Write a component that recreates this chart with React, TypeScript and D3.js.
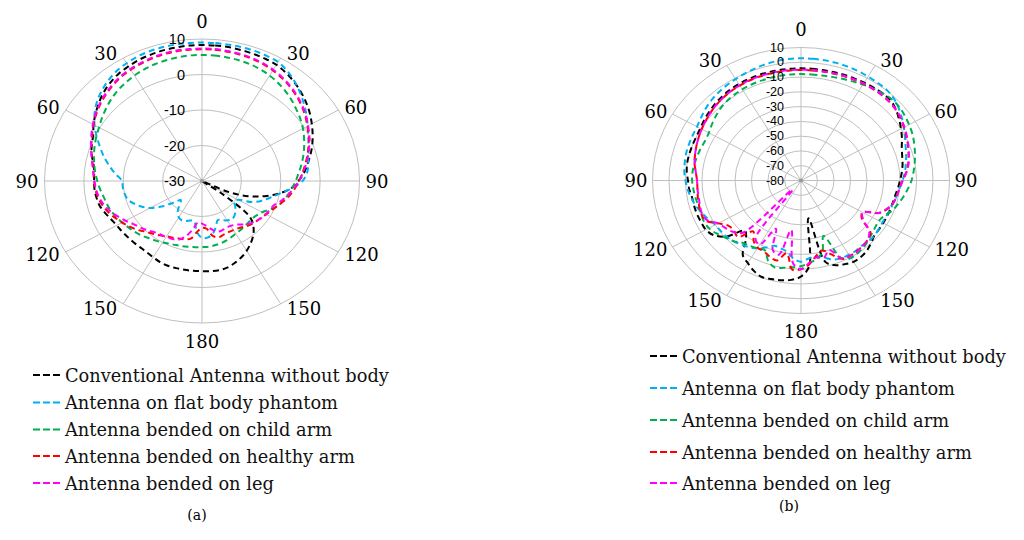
import React from 'react';
import * as d3 from 'd3';

// ---------- data ----------
const ANGLES: number[] = d3.range(0, 360, 5); // degrees, 0 at top, clockwise
const SERIES_NAMES = [
  'Conventional Antenna without body',
  'Antenna on flat body phantom',
  'Antenna bended on child arm',
  'Antenna bended on healthy arm',
  'Antenna bended on leg',
];
const COLORS = ['#000000', '#00B0F0', '#00B050', '#FF0000', '#FF00FF'];
const ANGLE_TICKS = [0, 30, 60, 90, 120, 150, 180, 210, 240, 270, 300, 330];
const TICKS_A = [-30, -20, -10, 0, 10];
const TICKS_B = [-80, -70, -60, -50, -40, -30, -20, -10, 0, 10];

// (a) values in dB at ANGLES
const A_CONVENTIONAL = [
  8.3, 8.3, 8.3, 8.2, 8.1, 8.0, 7.8, 7.2, 6.4, 5.5, 4.5, 3.4, 2.2, 1.0, -0.2, -1.5, -2.8, -4.0,
  -5.5, -7.2, -10, -13.5, -17.5, -23, -30, -24, -14, -11.5, -9.8, -8.5, -7.3, -6.3, -5.5, -4.8, -4.5, -4.5,
  -4.6, -4.6, -4.6, -4.6, -4.6, -4.8, -5.2, -5.5, -5.6, -5.5, -5.4, -5.2, -5.0, -4.5, -3.8, -3.1, -2.8, -2.6,
  -2.6, -2.5, -2.0, -1.0, -0.2, 0.5, 1.8, 3.0, 4.2, 5.3, 6.2, 6.9, 7.3, 7.7, 7.9, 8.1, 8.2, 8.3,
];
const A_FLAT = [
  9.0, 9.0, 9.0, 9.0, 9.0, 8.9, 8.7, 7.8, 6.6, 5.2, 3.8, 2.4, 1.0, -0.2, -1.2, -2.0, -2.6, -3.2,
  -4.5, -7.0, -9.8, -12, -13.8, -16, -19.4, -20, -19, -18, -17.2, -16.8, -17.2, -17.8, -18.3, -16.5, -14.8, -14.0,
  -14.0, -15.5, -18.5, -18.5, -18, -17.8, -18.2, -19.2, -21, -22.4, -20.5, -17.5, -14.8, -13, -11.5, -10.4, -10, -9.8,
  -9.7, -8, -6.2, -4.3, -2.5, -0.5, 1.5, 3.3, 4.8, 6.0, 7.0, 7.8, 8.3, 8.7, 8.9, 9.0, 9.0, 9.0,
];
const A_CHILD = [
  5.5, 5.5, 5.4, 5.3, 5.1, 4.8, 4.3, 3.7, 3.0, 2.2, 1.3, 0.5, -0.4, -1.4, -2.4, -3.4, -4.4, -5.4,
  -6.2, -7.0, -7.8, -8.6, -9.5, -11, -12.4, -13.1, -13.4, -13.4, -13.3, -13.1, -12.9, -12.5, -12.1, -11.8, -11.6, -11.4,
  -11.4, -11.3, -11.2, -11.0, -10.8, -10.5, -10.0, -9.5, -9.0, -8.3, -7.7, -7.2, -6.6, -6.0, -5.4, -5.0, -4.6, -4.0,
  -3.4, -2.8, -2.2, -1.6, -1.0, -0.4, 0.2, 1.0, 1.8, 2.6, 3.3, 3.8, 4.3, 4.7, 5.0, 5.2, 5.4, 5.5,
];
const A_HEALTHY = [
  7.1, 7.1, 7.0, 6.9, 6.7, 6.4, 6.0, 5.4, 4.7, 3.9, 3.0, 2.0, 0.9, -0.1, -1.2, -2.3, -3.4, -4.4,
  -5.4, -6.3, -7.3, -8.4, -9.6, -10.5, -11.2, -11.8, -12.2, -12.6, -13.2, -13.8, -14, -14.1, -13.9, -13.6, -14.3, -16.5,
  -16.8, -15.6, -13.5, -13, -12.8, -12.4, -12, -11.3, -10.6, -9.8, -8.6, -7.6, -6.6, -5.6, -4.6, -3.8, -3.2, -2.8,
  -2.6, -2.3, -1.8, -1.0, -0.1, 0.8, 1.8, 2.8, 3.7, 4.5, 5.2, 5.8, 6.2, 6.5, 6.8, 7.0, 7.1, 7.1,
];
const A_LEG = [
  7.3, 7.3, 7.2, 7.1, 6.9, 6.6, 6.2, 5.6, 4.9, 4.1, 3.2, 2.2, 1.1, 0.1, -1.0, -2.1, -3.2, -4.3,
  -5.4, -6.6, -7.8, -9.0, -10.4, -11.0, -11.3, -11.7, -12.3, -13.0, -14.0, -15.0, -15.4, -15.5, -15.2, -15.2, -16.2, -17.3,
  -18, -18.3, -16, -13.8, -12.4, -12.0, -11.8, -11.6, -11.2, -10.4, -9.6, -8.8, -7.6, -6.4, -5.2, -4.2, -3.5, -3.0,
  -2.7, -2.3, -1.7, -0.9, 0.0, 1.0, 2.0, 3.0, 3.9, 4.7, 5.4, 6.0, 6.4, 6.7, 7.0, 7.2, 7.3, 7.3,
];

// (b) values in dB at ANGLES
const B_CONVENTIONAL = [
  -4.1, -4.1, -4.1, -4.0, -3.9, -3.7, -3.5, -3.2, -3.0, -3.3, -5.0, -7.5, -10.0, -12.5, -15.0, -16.5, -17.5, -18.7,
  -20.0, -21.0, -22.0, -22.4, -22.5, -22.5, -22.5, -22.3, -22.0, -20.0, -18.0, -16.8, -16.4, -17.5, -19.0, -23.0, -54.0, -22.0,
  -15.0, -12.5, -11.5, -11.0, -10.5, -12.5, -15.5, -18.5, -28.0, -32.0, -21.0, -15.5, -13.4, -13.2, -13.0, -13.0, -13.0, -12.0,
  -11.5, -10.5, -10.0, -10.0, -10.0, -10.0, -9.5, -8.5, -7.5, -6.5, -5.7, -5.0, -4.6, -4.4, -4.2, -4.1, -4.1, -4.1,
];
const B_FLAT = [
  2.7, 2.7, 2.6, 2.4, 2.1, 1.7, 1.2, 0.8, 0.4, -0.8, -3.0, -5.5, -8.0, -10.5, -12.5, -14.0, -15.5, -16.8,
  -18.5, -20.0, -21.0, -22.0, -22.5, -23.0, -23.0, -22.5, -22.0, -22.0, -22.5, -22.0, -22.0, -22.0, -23.0, -26.0, -28.0, -27.0,
  -25.0, -27.0, -31.0, -32.5, -33.0, -30.0, -27.0, -25.0, -23.5, -22.0, -21.0, -20.5, -20.0, -18.0, -16.0, -14.0, -12.5, -11.0,
  -10.0, -9.0, -8.5, -8.0, -7.8, -7.6, -7.2, -6.0, -4.5, -3.2, -2.2, -1.4, -0.8, 0.0, 0.8, 1.6, 2.2, 2.6,
];
const B_CHILD = [
  -8.0, -8.0, -7.8, -7.4, -6.8, -6.0, -5.0, -4.0, -3.0, -2.2, -2.4, -3.3, -4.4, -5.5, -7.0, -8.5, -10.0, -11.5,
  -13.0, -15.0, -17.0, -19.0, -21.0, -24.0, -25.5, -25.0, -24.0, -22.5, -21.0, -20.0, -19.5, -22.0, -40.0, -30.0, -26.0, -24.0,
  -22.0, -21.0, -20.0, -19.0, -22.0, -28.0, -27.0, -26.0, -25.0, -22.0, -20.0, -17.5, -15.5, -15.0, -15.5, -15.5, -15.0, -14.5,
  -14.0, -14.0, -14.5, -15.0, -15.5, -16.0, -15.5, -14.0, -12.5, -11.0, -10.0, -9.3, -8.8, -8.5, -8.3, -8.1, -8.0, -8.0,
];
const B_HEALTHY = [
  -5.2, -5.2, -5.1, -5.0, -4.8, -4.6, -4.4, -4.3, -4.3, -4.5, -5.2, -6.5, -8.0, -9.5, -11.0, -12.5, -14.0, -16.0,
  -18.5, -20.0, -21.0, -22.0, -24.0, -28.0, -37.0, -35.0, -25.0, -23.0, -22.0, -21.5, -21.0, -21.5, -27.0, -31.0, -28.0, -23.0,
  -20.0, -19.5, -30.0, -24.0, -25.0, -27.0, -27.5, -30.0, -35.0, -26.0, -27.0, -26.5, -22.0, -16.0, -15.5, -16.0, -16.5, -17.0,
  -17.0, -16.0, -14.5, -13.5, -12.5, -11.5, -10.5, -9.5, -8.5, -7.5, -6.8, -6.2, -5.8, -5.5, -5.3, -5.2, -5.2, -5.2,
];
const B_LEG = [
  -5.0, -5.0, -4.9, -4.8, -4.6, -4.4, -4.2, -4.1, -4.1, -4.3, -5.0, -6.2, -7.7, -9.2, -10.8, -12.3, -13.8, -15.8,
  -18.3, -20.0, -21.0, -22.0, -24.5, -28.0, -37.0, -34.0, -26.0, -23.0, -22.0, -21.0, -21.0, -22.0, -30.0, -26.0, -27.0, -24.0,
  -20.0, -24.0, -46.0, -28.0, -30.0, -44.0, -30.0, -32.0, -72.0, -30.0, -26.0, -24.0, -22.0, -17.0, -16.0, -16.5, -17.0, -17.0,
  -17.0, -16.0, -14.5, -13.5, -12.5, -11.5, -10.5, -9.5, -8.5, -7.5, -6.7, -6.0, -5.6, -5.3, -5.1, -5.0, -5.0, -5.0,
];

const SERIES_A = [A_CONVENTIONAL, A_FLAT, A_CHILD, A_HEALTHY, A_LEG];
const SERIES_B = [B_CONVENTIONAL, B_FLAT, B_CHILD, B_HEALTHY, B_LEG];

// ---------- components ----------
type PanelProps = {
  cx: number; cy: number; rx: number; ry: number;
  ticks: number[]; series: number[][];
  gap: number; tickFont: number;
};

const GRID = '#bfbfbf';
const SERIF = '"DejaVu Serif", serif';
const SANS = '"Liberation Sans", Arial, sans-serif';

function Polar({ cx, cy, rx, ry, ticks, series, gap, tickFont }: PanelProps) {
  const lo = d3.min(ticks) as number;
  const hi = d3.max(ticks) as number;
  const sx = d3.scaleLinear().domain([lo, hi]).range([0, rx]).clamp(true);
  const sy = d3.scaleLinear().domain([lo, hi]).range([0, ry]).clamp(true);
  const rad = (a: number) => (a * Math.PI) / 180;
  const px = (a: number, v: number) => cx + sx(v) * Math.sin(rad(a));
  const py = (a: number, v: number) => cy - sy(v) * Math.cos(rad(a));
  const line = d3
    .line<[number, number]>()
    .x((d) => px(d[0], d[1]))
    .y((d) => py(d[0], d[1]))
    .curve(d3.curveCatmullRomClosed.alpha(0.5));

  return (
    <g>
      {ticks.filter((t) => t > lo).map((t) => (
        <ellipse key={'r' + t} cx={cx} cy={cy} rx={sx(t)} ry={sy(t)} fill="none" stroke={GRID} strokeWidth={1} />
      ))}
      {ANGLE_TICKS.map((a) => (
        <line key={'s' + a} x1={cx} y1={cy} x2={px(a, hi)} y2={py(a, hi)} stroke={GRID} strokeWidth={1} />
      ))}
      {ANGLE_TICKS.map((a) => {
        const label = a <= 180 ? a : 360 - a;
        const ex = px(a, hi);
        const ey = py(a, hi);
        if (a === 0 || a === 180) {
          return (
            <text key={'al' + a} x={ex} y={a === 0 ? ey - 18 : ey + 18} textAnchor="middle" dominantBaseline="central"
              fontFamily={SERIF} fontSize={18}>{label}</text>
          );
        }
        const right = a < 180;
        return (
          <text key={'al' + a} x={right ? ex + gap : ex - gap} y={ey - 5 * Math.cos(rad(a))}
            textAnchor={right ? 'start' : 'end'} dominantBaseline="central" fontFamily={SERIF} fontSize={18}>
            {label}
          </text>
        );
      })}
      {series.map((vals, i) => (
        <path key={'p' + i}
          d={line(ANGLES.map((a, j) => [a, vals[j]] as [number, number])) || ''}
          fill="none" stroke={COLORS[i]} strokeWidth={2} strokeDasharray="6,4" />
      ))}
      <circle cx={cx} cy={cy} r={2} fill="#999" />
      {ticks.map((t) => (
        <text key={'t' + t} x={cx - 17} y={cy - sy(t)} textAnchor="end" dominantBaseline="central"
          fontFamily={SANS} fontSize={tickFont} fill="#000">{t}</text>
      ))}
    </g>
  );
}

function Legend({ x, ys }: { x: number; ys: number[] }) {
  return (
    <g>
      {SERIES_NAMES.map((name, i) => (
        <g key={name}>
          <line x1={x} x2={x + 27} y1={ys[i]} y2={ys[i]} stroke={COLORS[i]} strokeWidth={2} strokeDasharray="7,3" />
          <text x={x + 32} y={ys[i] + 6.5} fontFamily={SERIF} fontSize={17.8} fill="#111">{name}</text>
        </g>
      ))}
    </g>
  );
}

const LEGEND_A_Y = [375, 402.5, 429.5, 456, 483];
const LEGEND_B_Y = [356, 388, 420, 452, 483];

export default function App() {
  return (
    <svg width={1024} height={540} style={{ position: 'absolute', left: 0, top: 0, background: '#fff' }}>
      <rect width={1024} height={540} fill="#fff" />
      <Polar cx={202} cy={181} rx={157.5} ry={142} ticks={TICKS_A} series={SERIES_A} gap={6} tickFont={14.5} />
      <Polar cx={801} cy={180.5} rx={148.5} ry={133} ticks={TICKS_B} series={SERIES_B} gap={5} tickFont={12.5} />
      <Legend x={33} ys={LEGEND_A_Y} />
      <Legend x={650} ys={LEGEND_B_Y} />
      <text x={197} y={515} textAnchor="middle" dominantBaseline="central" fontFamily={SERIF} fontSize={14}>(a)</text>
      <text x={789} y={506} textAnchor="middle" dominantBaseline="central" fontFamily={SERIF} fontSize={14}>(b)</text>
    </svg>
  );
}
